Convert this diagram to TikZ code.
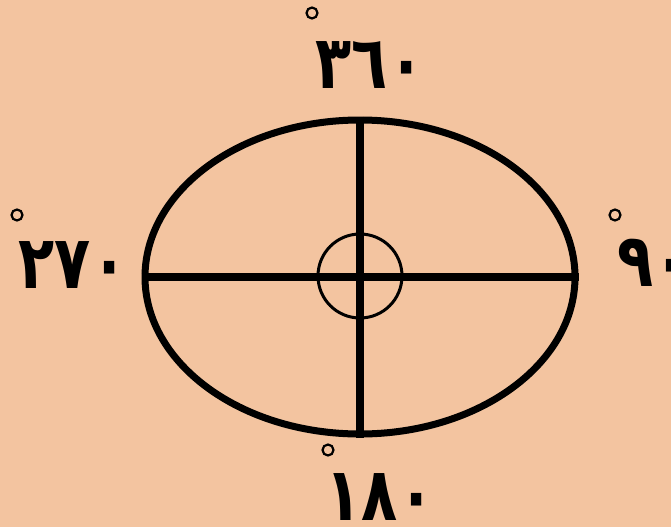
\documentclass[tikz,border=0pt]{standalone}
\usepackage{fontspec}
\newfontfamily\arabicfont[Script=Arabic]{DejaVu Sans}
\usetikzlibrary{shapes.geometric}
\definecolor{peach}{RGB}{243,196,160}
\newcommand{\narrowdigits}[1]{\scalebox{0.8}[1]{#1}}

\begin{document}
\begin{tikzpicture}[x=1pt,y=-1pt]
\tikzstyle{lbl}=[inner sep=0pt,anchor=base,font=\arabicfont\bfseries\fontsize{74}{74}\selectfont]
\tikzstyle{ring}=[draw,circle,line width=2.2pt,minimum width=10pt,minimum height=11pt,inner sep=0pt]
\fill[peach] (0,0) rectangle (671,527);
\useasboundingbox (0,0) rectangle (671,527);
\clip (0,0) rectangle (671,527);
\node[draw,ellipse,line width=7pt,minimum width=430pt,minimum height=314pt,inner sep=0pt] (rim) at (360,277) {};
\node[draw,circle,line width=3pt,minimum size=84pt,inner sep=0pt] (hub) at (360,276) {};
\draw[line width=8pt] (rim.west) -- (rim.east);
\draw[line width=8pt] (rim.north) -- (rim.south);
\node[lbl] (n360) at (370,88) {\narrowdigits{٣٦٠}};
\node[lbl] (n270) at (73,288) {\narrowdigits{٢٧٠}};
\node[lbl] (n90) at (654,286) {\narrowdigits{٩٠}};
\node[lbl] (n180) at (380,520) {\narrowdigits{١٨٠}};
\node[ring] (d360) at (312,13) {};
\node[ring] (d270) at (17,215) {};
\node[ring] (d90) at (615,215) {};
\node[ring] (d180) at (328,450) {};
\end{tikzpicture}
\end{document}
